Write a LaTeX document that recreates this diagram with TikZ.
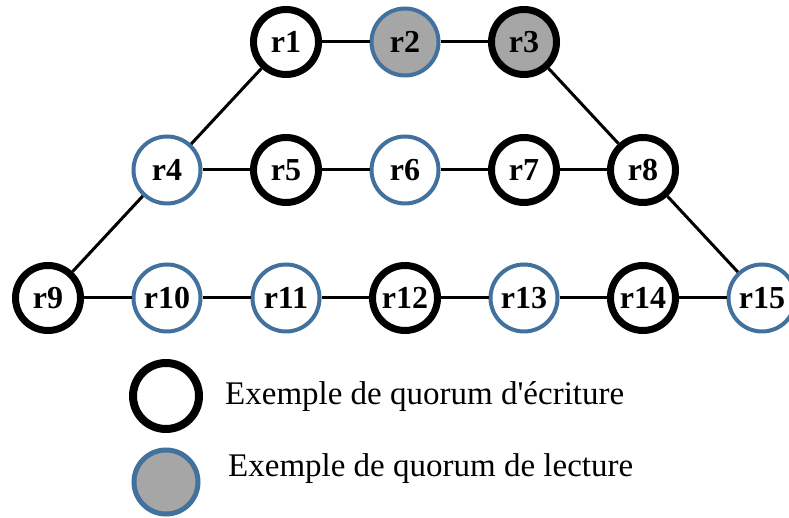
\documentclass[tikz,border=0pt]{standalone}
\usepackage{fontspec}
\setmainfont{Liberation Serif}
\usepackage{xcolor}
\usepackage{tikz}
\usetikzlibrary{positioning}
\definecolor{ringblue}{HTML}{41719C}
\definecolor{quorumgray}{HTML}{A6A6A6}

\begin{document}
\begin{tikzpicture}[x=1pt, y=1pt, on grid, node distance=128pt and 119pt]
    % Replica styles
    \tikzstyle{replica} = [circle, fill=white, inner sep=0pt, font=\fontsize{32}{36}\selectfont\bfseries]
    \tikzstyle{writer} = [replica, draw=black, line width=7pt, minimum size=65pt]
    \tikzstyle{reader} = [replica, draw=ringblue, line width=4pt, minimum size=67pt]
    \tikzstyle{link} = [line width=3pt]
    \useasboundingbox (-48,-220) rectangle (741,298);
    % Bottom row
    \node[writer] (r9) at (0,0) {r9};
    \node[reader, right=of r9] (r10) {r10};
    \node[reader, right=of r10] (r11) {r11};
    \node[writer, right=of r11] (r12) {r12};
    \node[reader, right=of r12] (r13) {r13};
    \node[writer, right=of r13] (r14) {r14};
    \node[reader, right=of r14] (r15) {r15};
    % Middle row
    \node[reader, above=of r10] (r4) {r4};
    \node[writer, right=of r4] (r5) {r5};
    \node[reader, right=of r5] (r6) {r6};
    \node[writer, right=of r6] (r7) {r7};
    \node[writer, right=of r7] (r8) {r8};
    % Top row
    \node[writer, above=of r5] (r1) {r1};
    \node[reader, fill=quorumgray, right=of r1] (r2) {r2};
    \node[writer, fill=quorumgray, right=of r2] (r3) {r3};
    % Connections
    \draw[link] (r1) -- (r2);
    \draw[link] (r2) -- (r3);
    \draw[link] (r1) -- (r4);
    \draw[link] (r3) -- (r8);
    \draw[link] (r4) -- (r5);
    \draw[link] (r5) -- (r6);
    \draw[link] (r6) -- (r7);
    \draw[link] (r7) -- (r8);
    \draw[link] (r4) -- (r9);
    \draw[link] (r8) -- (r15);
    \draw[link] (r9) -- (r10);
    \draw[link] (r10) -- (r11);
    \draw[link] (r11) -- (r12);
    \draw[link] (r12) -- (r13);
    \draw[link] (r13) -- (r14);
    \draw[link] (r14) -- (r15);
    % Legend
    \node[circle, draw=black, fill=white, line width=8pt, minimum size=66pt] (legw) at (118,-98) {};
    \node[circle, draw=ringblue, fill=quorumgray, line width=5pt, minimum size=64pt] (legr) at (118,-184) {};
    \node[anchor=base west, inner sep=0pt, font=\fontsize{33}{36}\selectfont] (legwtext) at (177,-107) {Exemple de quorum d\textquotesingle écriture};
    \node[anchor=base west, inner sep=0pt, font=\fontsize{33}{36}\selectfont] (legrtext) at (180,-179) {Exemple de quorum de lecture};
\end{tikzpicture}
\end{document}
